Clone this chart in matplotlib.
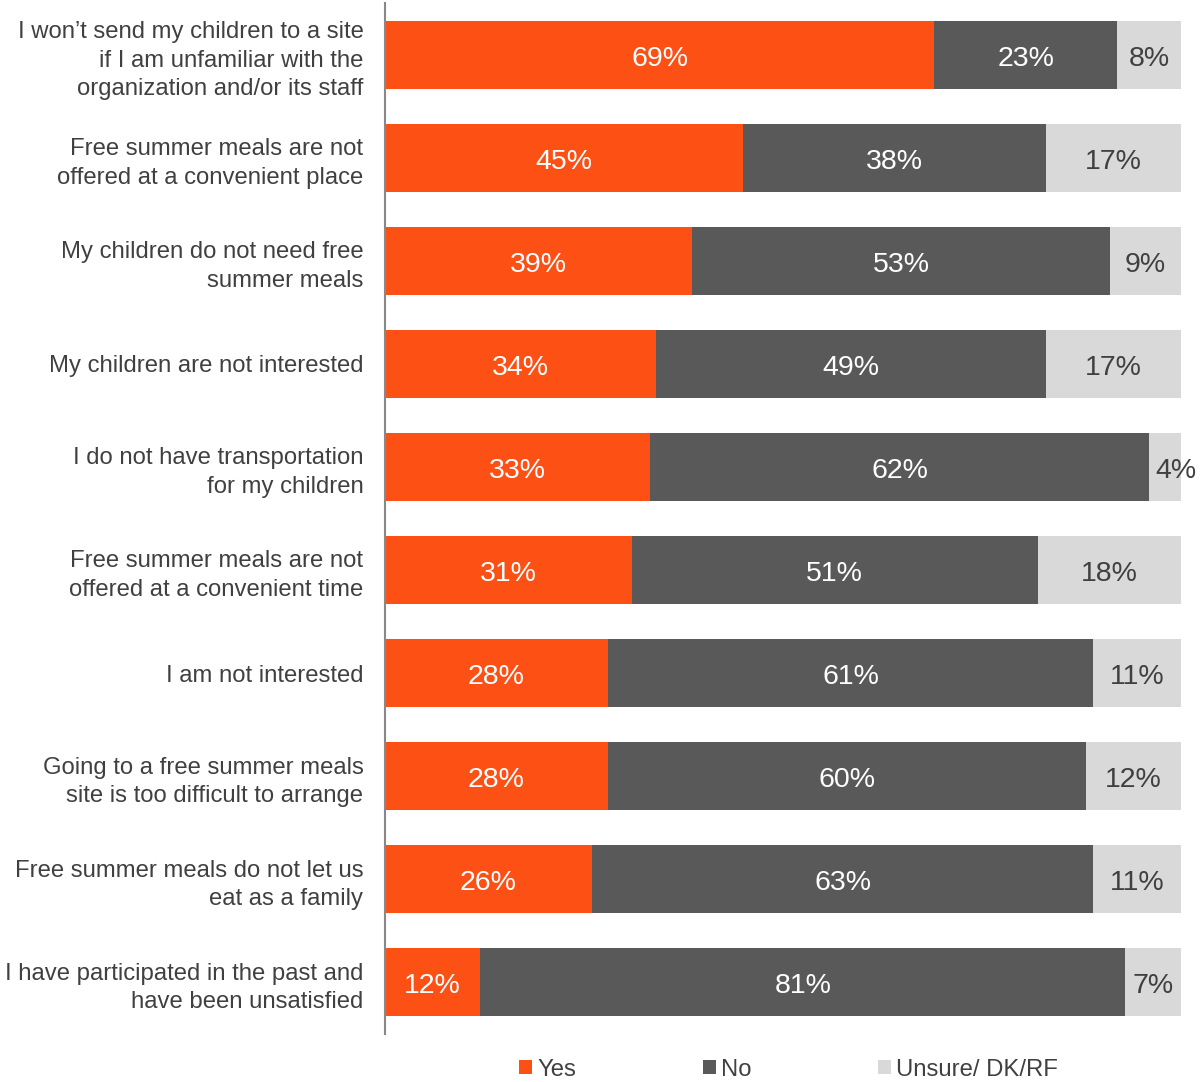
import matplotlib
matplotlib.use("Agg")
import matplotlib.pyplot as plt
from matplotlib.patches import Patch

plt.rcParams['font.family'] = ['Liberation Sans', 'DejaVu Sans']

categories = [
    "I won\u2019t send my children to a site\nif I am unfamiliar with the\norganization and/or its staff",
    "Free summer meals are not\noffered at a convenient place",
    "My children do not need free\nsummer meals",
    "My children are not interested",
    "I do not have transportation\nfor my children",
    "Free summer meals are not\noffered at a convenient time",
    "I am not interested",
    "Going to a free summer meals\nsite is too difficult to arrange",
    "Free summer meals do not let us\neat as a family",
    "I have participated in the past and\nhave been unsatisfied",
]
yes = [69, 45, 39, 34, 33, 31, 28, 28, 26, 12]
no = [23, 38, 53, 49, 62, 51, 61, 60, 63, 81]
unsure = [8, 17, 9, 17, 4, 18, 11, 12, 11, 7]
series_names = ["Yes", "No", "Unsure/ DK/RF"]

colors = ["#FC5015", "#595959", "#D9D9D9"]
label_colors = ["white", "white", "#404040"]
text_color = "#404040"

fig = plt.figure(figsize=(12, 10.82), dpi=100)
ax = fig.add_axes([0.3208, 0.0448, 0.6634, 0.952])

# 100% stacked: each row is scaled to its own total
totals = [a + b + c for a, b, c in zip(yes, no, unsure)]
ypos = list(range(len(categories)))
left = [0.0] * len(categories)
for vals, col, lc in zip([yes, no, unsure], colors, label_colors):
    widths = [v * 100.0 / t for v, t in zip(vals, totals)]
    ax.barh(ypos, widths, left=left, height=0.66, color=col, edgecolor="none")
    for y, v, w, l in zip(ypos, vals, widths, left):
        # narrow segments get their label nudged right so it stays readable
        x = l + w / 2 + (1.4 if w < 5 else 0)
        ax.text(x, y + 0.04, f"{v}%", ha="center", va="center",
                color=lc, fontsize=20.5, clip_on=False)
    left = [a + b for a, b in zip(left, widths)]

ax.set_xlim(0, 100)
ax.set_ylim(len(categories) - 0.5, -0.5)
ax.set_yticks(ypos)
ax.set_yticklabels(categories, fontsize=17.2, color=text_color, linespacing=1.38)
ax.tick_params(axis="y", length=0, pad=15.5)
ax.set_xticks([])
for side in ["top", "right", "bottom"]:
    ax.spines[side].set_visible(False)
ax.spines["left"].set_color("#888888")
ax.spines["left"].set_linewidth(1.5)

handles = [Patch(facecolor=c, edgecolor="none") for c in colors]
fig.legend(handles, series_names, loc="center", bbox_to_anchor=(0.657, 0.0115),
           ncol=3, frameon=False, fontsize=17.2, handlelength=0.55, handleheight=0.55,
           handletextpad=0.2, columnspacing=5.3, labelcolor=text_color,
           borderpad=0, borderaxespad=0)

fig.savefig("out.png", dpi=100)
